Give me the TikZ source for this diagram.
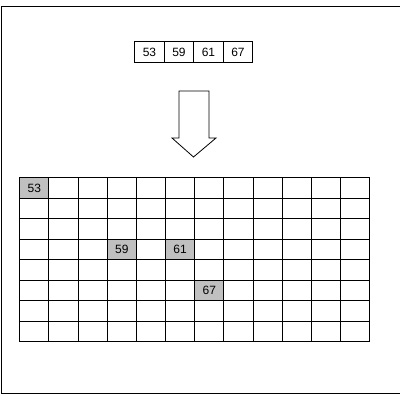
\documentclass[tikz,border=0pt]{standalone}
\usepackage{fontspec}
\setmainfont{Liberation Sans}
\begin{document}
\begin{tikzpicture}[x=1pt,y=-1pt,
  line width=0.8pt,
  numfont/.style={font=\fontsize{12}{12}\selectfont},
  topcell/.style={draw, numfont, minimum width=29.5pt, minimum height=21pt, inner sep=0pt, anchor=north west},
  gridcell/.style={draw, numfont, minimum width=29.17pt, minimum height=20.5pt, inner sep=0pt, anchor=north west},
  hit/.style={fill={rgb,255:red,192;green,192;blue,192}},
  bigarrow/.style={draw, fill=white, line width=0.8pt}]
\useasboundingbox (0,0) rectangle (400,400);
% outer frame (right side cut off)
\coordinate (ftr) at (400,6);
\coordinate (ftl) at (1,6);
\coordinate (fbl) at (1,393);
\coordinate (fbr) at (400,393);
\draw (ftr) -- (ftl) -- (fbl) -- (fbr);
% top array
\foreach \v [count=\i from 0] in {53,59,61,67}{
  \node[topcell] (a\i) at ({134.3+\i*29.5},41) {\v};
}
% arrow
\coordinate (p1) at (179,91);
\coordinate (p2) at (209,91);
\coordinate (p3) at (209,138);
\coordinate (p4) at (216,138);
\coordinate (p5) at (193.5,157);
\coordinate (p6) at (172,138);
\coordinate (p7) at (179,138);
\draw[bigarrow] (p1) -- (p2) -- (p3) -- (p4) -- (p5) -- (p6) -- (p7) -- cycle;
% grid
\foreach \r in {0,...,7}{
  \foreach \c in {0,...,11}{
    \node[gridcell] (g-\r-\c) at ({19.3+\c*29.17},{177.3+\r*20.5}) {};
  }
}
\node[gridcell,hit] (h53) at (g-0-0.north west) {53};
\node[gridcell,hit] (h59) at (g-3-3.north west) {59};
\node[gridcell,hit] (h61) at (g-3-5.north west) {61};
\node[gridcell,hit] (h67) at (g-5-6.north west) {67};
\end{tikzpicture}
\end{document}
